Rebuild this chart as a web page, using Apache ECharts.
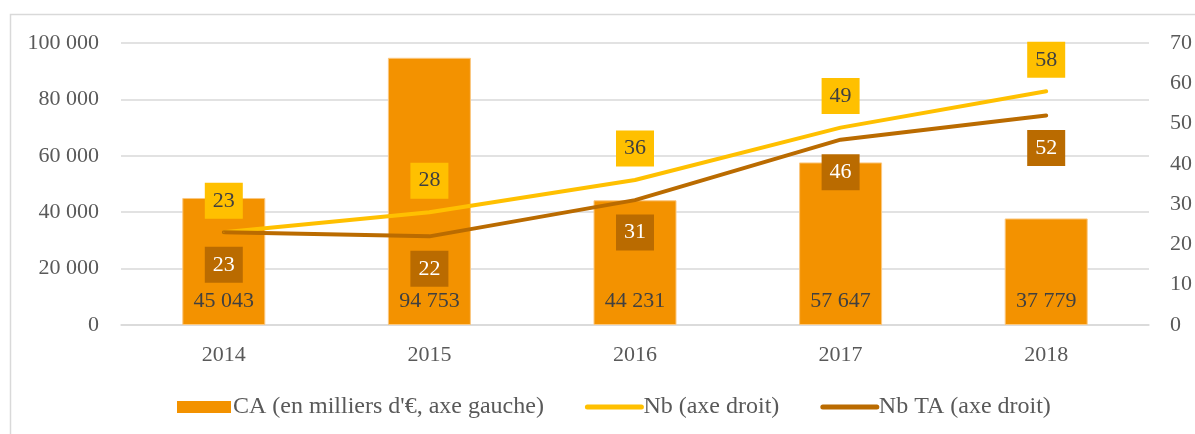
<!DOCTYPE html>
<html>
<head>
<meta charset="utf-8">
<style>
  html, body { margin: 0; padding: 0; background: #fff; }
  #chart { width: 1195px; height: 434px; }
</style>
<script src="https://cdn.jsdelivr.net/npm/echarts@6/dist/echarts.min.js"></script>
</head>
<body>
<div id="chart"></div>
<script>
// Years on the category axis
const years = ['2014', '2015', '2016', '2017', '2018'];
// Turnover in thousands of euros (left axis)
const caValues = [45043, 94753, 44231, 57647, 37779];
// Counts (right axis)
const nbValues = [23, 28, 36, 49, 58];
const nbTaValues = [23, 22, 31, 46, 52];

const seriesNames = ['CA (en milliers d\'€, axe gauche)', 'Nb (axe droit)', 'Nb TA (axe droit)'];

const FONT = '"Liberation Serif", "DejaVu Serif", serif';
const FS = 22;
const ORANGE = '#F39200';
const YELLOW = '#FFC000';
const BROWN = '#BA6B00';
const GRID = '#D9D9D9';
const TEXT = '#595959';

// Thousands separated by a space, e.g. 45 043
function spaced(v) {
  return String(v).replace(/\B(?=(\d{3})+(?!\d))/g, ' ');
}

const chart = echarts.init(document.getElementById('chart'), null, { renderer: 'canvas' });

chart.setOption({
  animation: false,
  textStyle: { fontFamily: FONT },
  graphic: [{
    type: 'rect',
    left: 8, top: 12,
    shape: { width: 1200, height: 440 },
    style: { fill: 'none', stroke: GRID, lineWidth: 1.5 },
    silent: true,
    z: -1
  }],
  grid: { left: 121, right: 42, top: 43, bottom: 109 },
  legend: {
    top: 390,
    left: 172,
    itemWidth: 54,
    itemHeight: 12,
    itemGap: 41,
    textStyle: { fontFamily: FONT, fontSize: 24, color: TEXT, padding: [0, 0, 0, -3] },
    data: [
      { name: seriesNames[0], icon: 'rect', itemStyle: { borderWidth: 0 } },
      { name: seriesNames[1], itemStyle: { opacity: 0 }, lineStyle: { width: 5, cap: 'round' } },
      { name: seriesNames[2], itemStyle: { opacity: 0 }, lineStyle: { width: 5, cap: 'round' } }
    ]
  },
  xAxis: {
    type: 'category',
    data: years,
    axisTick: { show: false },
    axisLine: { lineStyle: { color: GRID, width: 1.5 } },
    axisLabel: { color: TEXT, fontFamily: FONT, fontSize: FS, margin: 19 }
  },
  yAxis: [{
    type: 'value',
    min: 0, max: 100000, interval: 20000,
    axisLabel: { color: TEXT, fontFamily: FONT, fontSize: FS, margin: 22, formatter: spaced },
    splitLine: { lineStyle: { color: GRID, width: 1.5 } },
    axisLine: { show: false },
    axisTick: { show: false }
  }, {
    type: 'value',
    min: 0, max: 70, interval: 10,
    position: 'right',
    axisLabel: { color: TEXT, fontFamily: FONT, fontSize: FS, margin: 21 },
    splitLine: { show: false },
    axisLine: { show: false },
    axisTick: { show: false }
  }],
  series: [{
    name: seriesNames[0],
    type: 'bar',
    yAxisIndex: 0,
    data: caValues,
    barWidth: 83,
    itemStyle: { color: ORANGE, borderColor: '#FBC880', borderWidth: 1 },
    label: {
      show: true,
      position: 'insideBottom',
      distance: 13,
      color: '#404040',
      fontFamily: FONT,
      fontSize: FS,
      formatter: p => spaced(p.value)
    }
  }, {
    name: seriesNames[1],
    type: 'line',
    yAxisIndex: 1,
    data: nbValues,
    symbol: 'circle',
    symbolSize: 1,
    itemStyle: { color: YELLOW },
    lineStyle: { color: YELLOW, width: 4, cap: 'round' },
    label: {
      show: true,
      position: 'top',
      distance: 13,
      color: '#404040',
      backgroundColor: YELLOW,
      fontFamily: FONT,
      fontSize: FS,
      lineHeight: 22,
      padding: [7, 8, 7, 8]
    },
    z: 3
  }, {
    name: seriesNames[2],
    type: 'line',
    yAxisIndex: 1,
    data: nbTaValues,
    symbol: 'circle',
    symbolSize: 1,
    itemStyle: { color: BROWN },
    lineStyle: { color: BROWN, width: 4, cap: 'round' },
    label: {
      show: true,
      position: 'bottom',
      distance: 14,
      color: '#FFFFFF',
      backgroundColor: BROWN,
      fontFamily: FONT,
      fontSize: FS,
      lineHeight: 22,
      padding: [7, 8, 7, 8]
    },
    z: 3
  }]
});
</script>
</body>
</html>
